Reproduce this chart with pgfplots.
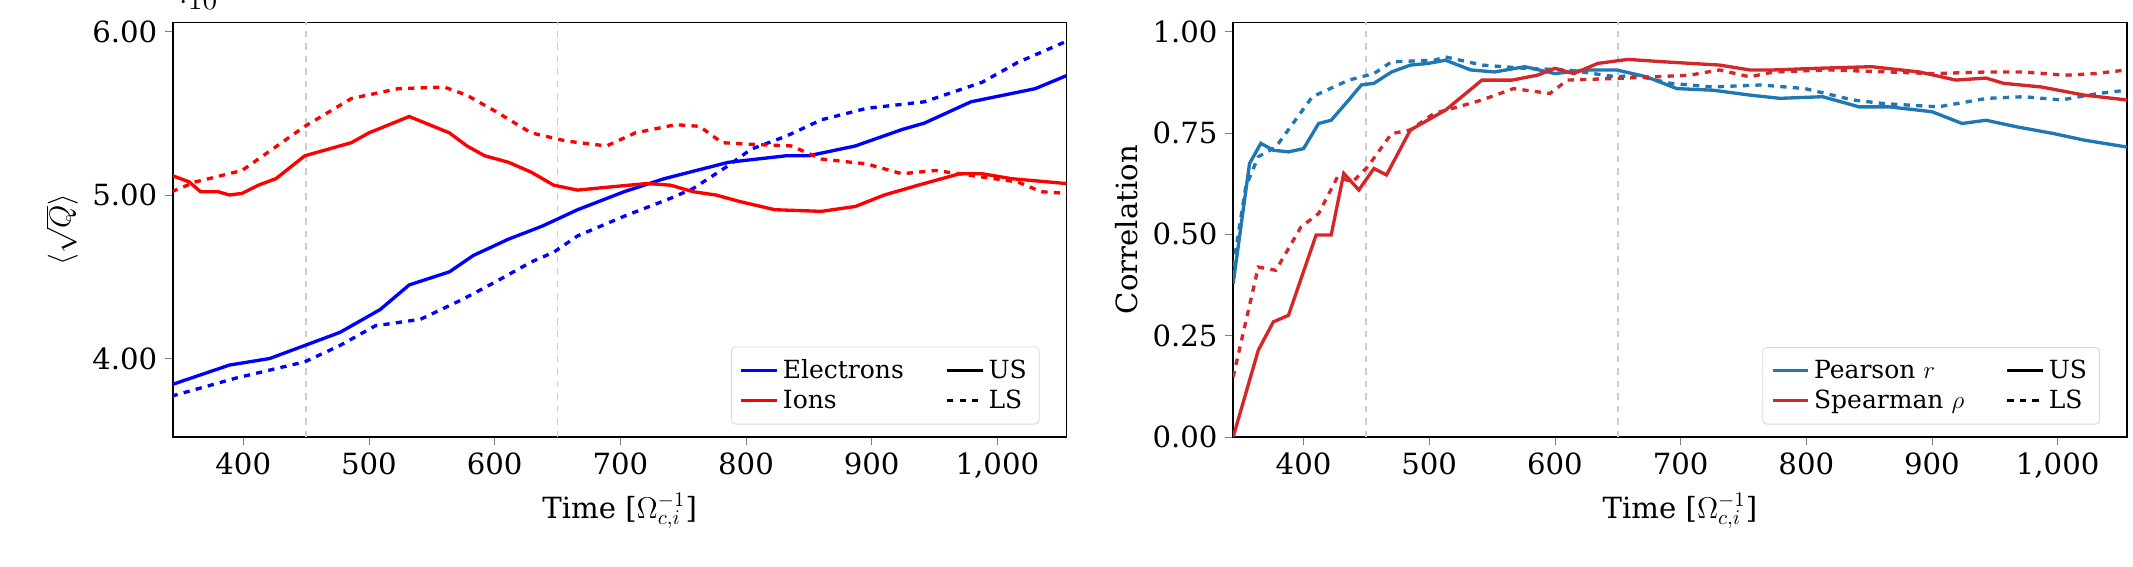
\documentclass[border=0pt]{standalone}
\usepackage{pgfplots}
\pgfplotsset{compat=1.18}
\usepackage{fontspec}
\setmainfont{DejaVu Serif}
\definecolor{tabblue}{RGB}{31,119,180}
\definecolor{tabred}{RGB}{214,39,40}
\pgfplotsset{
 cstyle/.style={scale only axis, width=429pt, height=199pt, xmin=344, xmax=1055,
  xtick={400,500,...,1000}, /pgf/number format/assume math mode=true,
  tick label style={font=\fontsize{14}{16}\selectfont}, label style={font=\fontsize{14}{16}\selectfont},
  xlabel={Time [$\Omega_{c,i}^{-1}$]}, tick align=outside, major tick length=4pt,
  xtick pos=bottom, ytick pos=left, axis line style={line width=0.8pt},
  legend pos=south east, legend columns=2,
  legend style={font=\fontsize{12}{14}\selectfont, draw=black!15, rounded corners=2pt, inner sep=4pt,
   /tikz/every even column/.append style={column sep=18pt}},
  legend cell align=left, every axis plot/.append style={line width=1.6pt}}}
\begin{document}
\begin{tikzpicture}
\useasboundingbox (-83pt,-62.4pt) rectangle (941pt,209.8pt);
\begin{axis}[cstyle, ymin=0.0352, ymax=0.06055, ytick={0.04,0.05,0.06},
 yticklabel style={/pgf/number format/fixed, /pgf/number format/precision=2, /pgf/number format/fixed zerofill},
 ylabel={$\langle\sqrt{Q}\rangle$}]
\addlegendimage{blue, line width=1.6pt}\addlegendentry{Electrons}
\addlegendimage{black, line width=1.6pt}\addlegendentry{US}
\addlegendimage{red, line width=1.6pt}\addlegendentry{Ions}
\addlegendimage{black, dashed, line width=1.6pt}\addlegendentry{LS}
\draw[black!20, dashed, line width=0.9pt] (450,0.0352) -- (450,0.06055);
\draw[black!20, dashed, line width=0.9pt] (650,0.0352) -- (650,0.06055);
\addplot[blue, forget plot] coordinates {(343,0.0384)(389,0.0396)(421,0.0400)(449,0.0408)(477,0.0416)(509,0.0430)(532,0.0445)(564,0.0453)(583,0.0463)(611,0.0473)(638,0.0481)(666,0.0491)(703,0.0502)(735,0.0510)(786,0.0520)(832,0.0524)(850,0.0524)(887,0.0530)(924,0.0540)(942,0.0544)(979,0.0557)(1030,0.0565)(1055,0.0573)};
\addplot[blue, dashed, forget plot] coordinates {(343,0.0377)(394,0.0388)(449,0.0398)(477,0.0408)(505,0.0420)(541,0.0424)(574,0.0436)(601,0.0447)(629,0.0459)(647,0.0465)(666,0.0475)(703,0.0487)(740,0.0498)(758,0.0504)(786,0.0518)(804,0.0528)(832,0.0536)(860,0.0546)(896,0.0553)(942,0.0557)(988,0.0569)(1016,0.0581)(1055,0.0594)};
\addplot[red, forget plot] coordinates {(343,0.0512)(357,0.0508)(366,0.0502)(380,0.0502)(389,0.0500)(399,0.0501)(412,0.0506)(426,0.0510)(449,0.0524)(486,0.0532)(500,0.0538)(532,0.0548)(564,0.0538)(578,0.0530)(592,0.0524)(611,0.0520)(629,0.0514)(647,0.0506)(666,0.0503)(693,0.0505)(721,0.0507)(740,0.0506)(758,0.0502)(776,0.0500)(795,0.0496)(823,0.0491)(860,0.0490)(887,0.0493)(910,0.0500)(937,0.0506)(970,0.0513)(988,0.0513)(1011,0.0510)(1055,0.0507)};
\addplot[red, dashed, forget plot] coordinates {(343,0.0502)(362,0.0508)(399,0.0515)(412,0.0522)(449,0.0542)(486,0.0559)(523,0.0565)(560,0.0566)(578,0.0561)(601,0.0551)(629,0.0538)(657,0.0533)(689,0.0530)(712,0.0538)(744,0.0543)(763,0.0542)(781,0.0532)(804,0.0531)(836,0.0530)(860,0.0522)(896,0.0519)(924,0.0513)(951,0.0515)(988,0.0511)(1016,0.0508)(1035,0.0502)(1055,0.0501)};
\end{axis}
\begin{axis}[cstyle, at={(509pt,0)}, ymin=0, ymax=1.022, ytick={0,0.25,0.5,0.75,1},
 yticklabel style={/pgf/number format/fixed, /pgf/number format/precision=2, /pgf/number format/fixed zerofill},
 ylabel={Correlation}]
\addlegendimage{tabblue, line width=1.6pt}\addlegendentry{Pearson $r$}
\addlegendimage{black, line width=1.6pt}\addlegendentry{US}
\addlegendimage{tabred, line width=1.6pt}\addlegendentry{Spearman $\rho$}
\addlegendimage{black, dashed, line width=1.6pt}\addlegendentry{LS}
\draw[black!20, dashed, line width=0.9pt] (450,0) -- (450,1.022);
\draw[black!20, dashed, line width=0.9pt] (650,0) -- (650,1.022);
\addplot[tabblue, forget plot] coordinates {(344,0.378)(357,0.674)(366,0.724)(376,0.707)(388,0.703)(400,0.711)(412,0.773)(422,0.781)(436,0.831)(446,0.868)(456,0.872)(470,0.900)(485,0.917)(499,0.921)(513,0.929)(533,0.905)(552,0.900)(576,0.913)(600,0.896)(625,0.905)(649,0.905)(673,0.888)(697,0.859)(726,0.855)(755,0.843)(779,0.835)(813,0.839)(842,0.814)(866,0.814)(900,0.802)(924,0.773)(943,0.781)(967,0.765)(997,0.748)(1021,0.732)(1055,0.715)};
\addplot[tabblue, dashed, forget plot] coordinates {(344,0.42)(354,0.617)(364,0.691)(378,0.715)(407,0.839)(436,0.880)(456,0.896)(470,0.925)(504,0.929)(513,0.937)(542,0.917)(576,0.909)(610,0.905)(649,0.888)(663,0.892)(692,0.872)(725,0.863)(764,0.868)(799,0.859)(837,0.831)(862,0.822)(905,0.814)(944,0.835)(973,0.839)(1003,0.831)(1032,0.847)(1055,0.855)};
\addplot[tabred, forget plot] coordinates {(344,0.0)(364,0.214)(376,0.284)(388,0.300)(410,0.498)(422,0.498)(432,0.650)(444,0.609)(456,0.662)(466,0.646)(485,0.757)(513,0.806)(542,0.880)(566,0.880)(586,0.892)(600,0.909)(615,0.896)(634,0.921)(658,0.931)(687,0.925)(731,0.917)(755,0.905)(774,0.905)(808,0.909)(852,0.913)(890,0.900)(919,0.880)(943,0.885)(957,0.872)(987,0.863)(1021,0.843)(1055,0.831)};
\addplot[tabred, dashed, forget plot] coordinates {(344,0.148)(364,0.419)(378,0.411)(398,0.518)(412,0.551)(427,0.641)(439,0.629)(451,0.666)(470,0.748)(485,0.757)(504,0.798)(523,0.814)(542,0.831)(567,0.859)(596,0.847)(610,0.880)(649,0.884)(678,0.888)(707,0.892)(731,0.905)(755,0.888)(774,0.900)(818,0.905)(866,0.900)(900,0.896)(944,0.900)(973,0.900)(1006,0.892)(1030,0.896)(1055,0.905)};
\end{axis}
\end{tikzpicture}
\end{document}
